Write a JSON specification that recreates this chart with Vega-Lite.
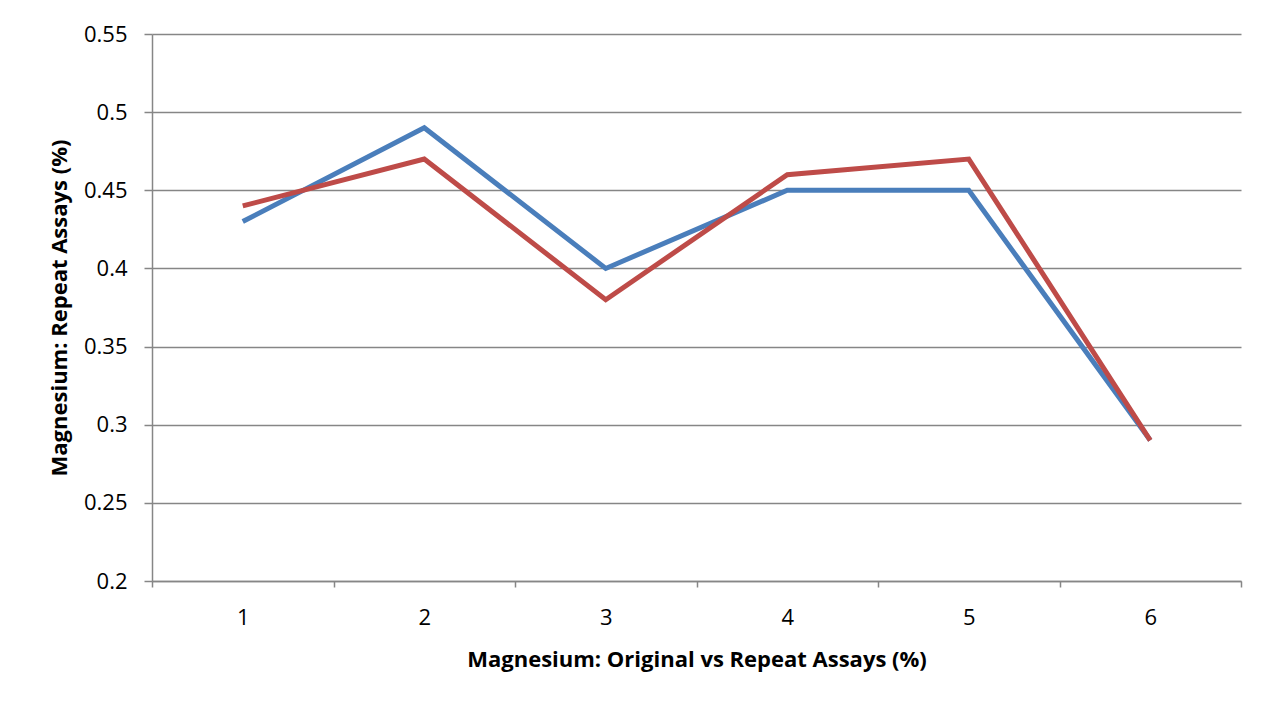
{
  "$schema": "https://vega.github.io/schema/vega-lite/v6.json",
  "width": 1089,
  "height": 547,
  "autosize": {"type": "none"},
  "padding": {"left": 152, "top": 34, "right": 30, "bottom": 122},
  "background": "white",
  "config": {
    "view": {"stroke": null},
    "font": "Open Sans",
    "axis": {
      "labelFont": "Open Sans",
      "titleFont": "Open Sans",
      "labelColor": "#000000",
      "titleColor": "#000000",
      "labelFontSize": 22,
      "titleFontSize": 22,
      "titleFontWeight": "bold",
      "domainColor": "#868686",
      "tickColor": "#868686",
      "gridColor": "#868686",
      "domainWidth": 1.5,
      "tickWidth": 1.5,
      "gridWidth": 1.5
    }
  },
  "data": {
    "values": [
      {"sample": "1", "series": "Original", "value": 0.43},
      {"sample": "2", "series": "Original", "value": 0.49},
      {"sample": "3", "series": "Original", "value": 0.40},
      {"sample": "4", "series": "Original", "value": 0.45},
      {"sample": "5", "series": "Original", "value": 0.45},
      {"sample": "6", "series": "Original", "value": 0.29},
      {"sample": "1", "series": "Repeat", "value": 0.44},
      {"sample": "2", "series": "Repeat", "value": 0.47},
      {"sample": "3", "series": "Repeat", "value": 0.38},
      {"sample": "4", "series": "Repeat", "value": 0.46},
      {"sample": "5", "series": "Repeat", "value": 0.47},
      {"sample": "6", "series": "Repeat", "value": 0.29}
    ]
  },
  "mark": {"type": "line", "strokeWidth": 5, "strokeJoin": "miter"},
  "encoding": {
    "x": {
      "field": "sample",
      "type": "ordinal",
      "scale": {"type": "band", "paddingInner": 0, "paddingOuter": 0},
      "axis": {
        "title": "Magnesium: Original vs Repeat Assays (%)",
        "labelAngle": 0,
        "tickBand": "extent",
        "tickSize": 6,
        "labelPadding": 20,
        "titlePadding": 21,
        "grid": false
      }
    },
    "y": {
      "field": "value",
      "type": "quantitative",
      "scale": {"domain": [0.2, 0.55], "nice": false, "zero": false},
      "axis": {
        "title": "Magnesium: Repeat Assays (%)",
        "values": [0.2, 0.25, 0.3, 0.35, 0.4, 0.45, 0.5, 0.55],
        "format": ".2~f",
        "tickSize": 8,
        "labelPadding": 17,
        "titlePadding": 12,
        "grid": true
      }
    },
    "color": {
      "field": "series",
      "type": "nominal",
      "scale": {"domain": ["Original", "Repeat"], "range": ["#4A7EBB", "#BE4B48"]},
      "legend": null
    }
  }
}
